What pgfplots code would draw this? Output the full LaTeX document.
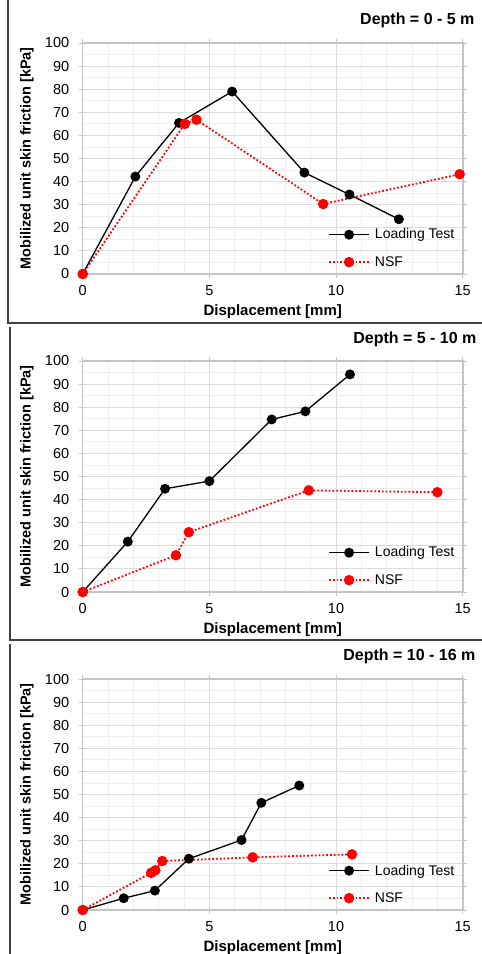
\documentclass[border=0pt]{standalone}
\usepackage{fontspec}
\setmainfont{Liberation Sans}
\usepackage{pgfplots}
\pgfplotsset{compat=1.18}

\definecolor{framegray}{HTML}{C4C4C4}
\definecolor{majgrid}{HTML}{DCDCDC}
\definecolor{mingrid}{HTML}{EEEEEE}
\definecolor{boxline}{HTML}{404040}
\definecolor{nsfred}{HTML}{FF0000}

\pgfplotsset{
 panel/.style={
  scale only axis, width=380pt, height=231pt,
  xmin=0, xmax=15, ymin=0, ymax=100,
  xtick={0,5,10,15}, ytick={0,10,...,100},
  minor x tick num=4, minor y tick num=1,
  grid=both,
  major grid style={majgrid, line width=0.9pt},
  minor grid style={mingrid, line width=0.8pt},
  axis line style={framegray, line width=1.6pt},
  major tick style={framegray, line width=1pt},
  major tick length=4pt, minor tick length=0pt,
  tick align=outside,
  /pgf/number format/assume math mode=true,
  xticklabel={\fontsize{14.5}{16}\selectfont\pgfmathprintnumber{\tick}},
  yticklabel={\fontsize{14.5}{16}\selectfont\pgfmathprintnumber{\tick}},
  xticklabel style={yshift=-4pt},
  yticklabel style={xshift=-6pt},
  xlabel={Displacement [mm]},
  ylabel={Mobilized unit skin friction [kPa]},
  xlabel style={font=\bfseries\fontsize{15}{17}\selectfont, at={(axis description cs:0.5,0)}, anchor=center, yshift=-37.5pt},
  ylabel style={font=\bfseries\fontsize{14.5}{17}\selectfont, at={(axis description cs:0,0.5)}, anchor=center, yshift=55.7pt},
  clip=false,
  legend cell align=left,
  legend style={draw=none, fill=none, at={(rel axis cs:0.6455,0.205)}, anchor=north west,
    font=\fontsize{14}{16}\selectfont, row sep=12pt, column sep=3pt, inner sep=0pt},
  legend image code/.code={\draw[mark repeat=2,mark phase=2,#1] plot coordinates {(0pt,0pt) (20pt,0pt) (40pt,0pt)};},
 },
 lt/.style={black, line width=1.3pt, mark=*, mark size=4.3pt, mark options={solid, fill=black}},
 nsf/.style={nsfred, line width=1.8pt, dash pattern=on 1.8pt off 2pt, mark=*, mark size=4.3pt, mark options={solid, fill=nsfred}},
}

\begin{document}
\begin{tikzpicture}
\useasboundingbox (0pt,0pt) rectangle (482pt,-954pt);

% panel frames
\draw[boxline, line width=1.2pt] (8pt,0pt) -- (8pt,-323pt) -- (482pt,-323pt);
\draw[boxline, line width=1.2pt] (10pt,-327pt) -- (10pt,-640pt) -- (482pt,-640pt);
\draw[boxline, line width=1.2pt] (10pt,-644pt) -- (10pt,-954pt);

% Panel 1
\begin{axis}[panel, at={(82.7pt,-43pt)}, anchor=north west]
\addplot[lt] coordinates {(0,0) (2.08,42.2) (3.8,65.4) (5.9,79.0) (8.75,43.9) (10.53,34.4) (12.48,23.7)};
\addlegendentry{Loading Test}
\addplot[nsf] coordinates {(0,0) (4.03,65.0) (4.49,66.8) (9.49,30.3) (14.88,43.2)};
\addlegendentry{NSF}
\end{axis}
\node[anchor=east, font=\bfseries\fontsize{16}{18}\selectfont] at (478pt,-20pt) {Depth = 0 - 5 m};

% Panel 2
\begin{axis}[panel, at={(82.7pt,-361pt)}, anchor=north west]
\addplot[lt] coordinates {(0,0) (1.78,21.8) (3.25,44.7) (5.0,48.0) (7.46,74.7) (8.79,78.2) (10.55,94.2)};
\addlegendentry{Loading Test}
\addplot[nsf] coordinates {(0,0) (3.68,15.9) (4.19,25.9) (8.92,44.0) (14.0,43.2)};
\addlegendentry{NSF}
\end{axis}
\node[anchor=east, font=\bfseries\fontsize{16}{18}\selectfont] at (480pt,-339pt) {Depth = 5 - 10 m};

% Panel 3
\begin{axis}[panel, at={(82.7pt,-679pt)}, anchor=north west]
\addplot[lt] coordinates {(0,0) (1.62,5.1) (2.85,8.4) (4.19,22.2) (6.27,30.3) (7.05,46.4) (8.55,53.9)};
\addlegendentry{Loading Test}
\addplot[nsf] coordinates {(0,0) (2.70,16.1) (2.87,17.2) (3.14,21.2) (6.71,22.8) (10.63,24.1)};
\addlegendentry{NSF}
\end{axis}
\node[anchor=east, font=\bfseries\fontsize{16}{18}\selectfont] at (479pt,-656pt) {Depth = 10 - 16 m};
\end{tikzpicture}
\end{document}
